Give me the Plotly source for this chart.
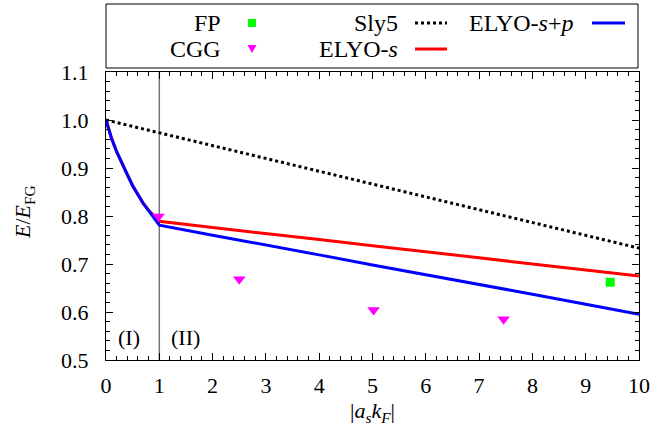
import plotly.graph_objects as go

# ---- data ----
sly5_x = [0, 10]
sly5_y = [1.0, 0.733]

elyo_s_x = [0, 0.1, 0.2, 0.3, 0.4, 0.5, 0.6, 0.7, 0.8, 0.9, 1.0, 2, 3, 4, 5, 6, 7, 8, 9, 10]
elyo_s_y = [1.0, 0.963, 0.934, 0.909, 0.886, 0.863, 0.843, 0.826, 0.812, 0.800, 0.789,
            0.776, 0.764, 0.751, 0.738, 0.726, 0.713, 0.700, 0.688, 0.675]

elyo_sp_x = [0, 0.1, 0.2, 0.3, 0.4, 0.5, 0.6, 0.7, 0.8, 0.9, 1.0, 2, 3, 4, 5, 6, 7, 8, 9, 10]
elyo_sp_y = [1.0, 0.963, 0.934, 0.909, 0.886, 0.863, 0.843, 0.826, 0.811, 0.797, 0.781,
             0.760, 0.740, 0.719, 0.698, 0.678, 0.657, 0.637, 0.616, 0.595]

cgg_x = [0.985, 2.5, 5.02, 7.46]
cgg_y = [0.799, 0.668, 0.604, 0.585]

fp_x = [9.46]
fp_y = [0.662]

region_boundary = 1.0

# ---- layout geometry ----
W, H = 655, 438
L, R, T, B = 106, 16, 72, 78
PW, PH = W - L - R, H - T - B

def xp(px):
    return (px - L) / PW

def yp(py):
    return (H - B - py) / PH

FONT = "Liberation Serif"

fig = go.Figure()

fig.add_trace(go.Scatter(x=[region_boundary, region_boundary], y=[0.5, 1.1], mode="lines",
                         line=dict(color="#777777", width=1.5), showlegend=False))
fig.add_trace(go.Scatter(x=sly5_x, y=sly5_y, mode="lines",
                         line=dict(color="black", width=3, dash="3px,3px"), showlegend=False))
fig.add_trace(go.Scatter(x=elyo_s_x, y=elyo_s_y, mode="lines",
                         line=dict(color="#ff0000", width=3), showlegend=False))
fig.add_trace(go.Scatter(x=elyo_sp_x, y=elyo_sp_y, mode="lines",
                         line=dict(color="#0000ff", width=3), showlegend=False))
fig.add_trace(go.Scatter(x=cgg_x, y=cgg_y, mode="markers",
                         marker=dict(symbol="triangle-down", color="#ff00ff", size=11, line=dict(width=0)),
                         showlegend=False))
fig.add_trace(go.Scatter(x=fp_x, y=fp_y, mode="markers",
                         marker=dict(symbol="square", color="#00ff00", size=9, line=dict(width=0)),
                         showlegend=False))

shapes = []
annotations = []

# legend box
shapes.append(dict(type="rect", xref="paper", yref="paper", x0=xp(106), x1=xp(638), y0=yp(68), y1=yp(4),
                   line=dict(color="black", width=1), fillcolor="white", layer="above"))

LEG = 24
def leg_text(txt, right_px, cy):
    annotations.append(dict(xref="paper", yref="paper", x=xp(right_px), y=yp(cy), text=txt,
                            xanchor="right", yanchor="middle", showarrow=False,
                            font=dict(family=FONT, size=LEG, color="black")))

def leg_line(x0, x1, cy, color, dash=None):
    ln = dict(color=color, width=3)
    if dash:
        ln["dash"] = dash
    shapes.append(dict(type="line", xref="paper", yref="paper", x0=xp(x0), x1=xp(x1),
                       y0=yp(cy), y1=yp(cy), line=ln, layer="above"))

r1, r2 = 23, 49
leg_text("FP", 223, r1)
shapes.append(dict(type="rect", xref="paper", yref="paper", x0=xp(248), x1=xp(256), y0=yp(27), y1=yp(19),
                   line=dict(width=0), fillcolor="#00ff00", layer="above"))
leg_text("CGG", 223, r2)
shapes.append(dict(type="path", xref="paper", yref="paper",
                   path=f"M {xp(247.5)} {yp(45)} L {xp(256.5)} {yp(45)} L {xp(252)} {yp(53)} Z",
                   line=dict(width=0), fillcolor="#ff00ff", layer="above"))
leg_text("Sly5", 400, r1)
leg_line(415, 447, r1, "black", "3px,3px")
leg_text("ELYO-<i>s</i>", 400, r2)
leg_line(415, 447, r2, "#ff0000")
leg_text("ELYO-<i>s</i>+<i>p</i>", 575, r1)
leg_line(592, 625, r1, "#0000ff")

# region labels
annotations.append(dict(x=0.44, y=0.546, xref="x", yref="y", text="(I)", showarrow=False,
                        font=dict(family=FONT, size=22, color="black")))
annotations.append(dict(x=1.5, y=0.546, xref="x", yref="y", text="(II)", showarrow=False,
                        font=dict(family=FONT, size=22, color="black")))

# axis titles
annotations.append(dict(xref="paper", yref="paper", x=xp(372), y=yp(412),
                        text="|<i>a<sub>s</sub>k<sub>F</sub></i>|", showarrow=False,
                        xanchor="center", yanchor="middle",
                        font=dict(family=FONT, size=22, color="black")))
annotations.append(dict(xref="paper", yref="paper", x=xp(24), y=yp(212),
                        text="<i>E</i>/<i>E</i><sub>FG</sub>", showarrow=False, textangle=-90,
                        xanchor="center", yanchor="middle",
                        font=dict(family=FONT, size=22, color="black")))

axis_common = dict(showgrid=False, zeroline=False, showline=True, linecolor="black", linewidth=1,
                   mirror="allticks", ticks="inside", ticklen=7, tickcolor="black", tickwidth=1,
                   tickfont=dict(family=FONT, size=22, color="black"))

fig.update_xaxes(range=[0, 10], dtick=1, tick0=0,
                 minor=dict(dtick=0.2, ticks="inside", ticklen=4, tickcolor="black"),
                 ticklabelstandoff=6, **axis_common)
fig.update_yaxes(range=[0.5, 1.1], dtick=0.1, tick0=0.5, tickformat=".1f",
                 minor=dict(dtick=0.02, ticks="inside", ticklen=4, tickcolor="black"),
                 ticklabelstandoff=12, **axis_common)

fig.update_layout(width=W, height=H, margin=dict(l=L, r=R, t=T, b=B, autoexpand=False),
                  paper_bgcolor="white", plot_bgcolor="white", showlegend=False,
                  shapes=shapes, annotations=annotations,
                  font=dict(family=FONT, color="black"))

fig.write_html("out.html", config={"displayModeBar": False},
               post_script="document.body.style.margin='0';document.body.style.padding='0';")
